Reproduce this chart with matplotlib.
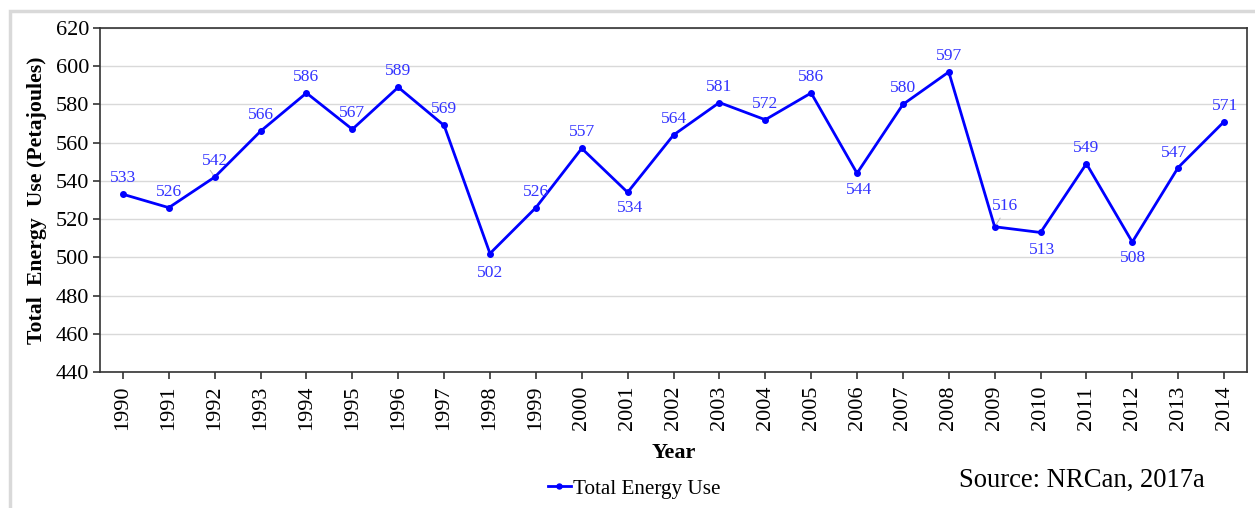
import matplotlib
matplotlib.use("Agg")
import matplotlib.pyplot as plt
from matplotlib.patches import Rectangle

years = [str(y) for y in range(1990, 2015)]
energy = [533, 526, 542, 566, 586, 567, 589, 569, 502, 526, 557, 534, 564,
          581, 572, 586, 544, 580, 597, 516, 513, 549, 508, 547, 571]
# label offsets in pixels (dx, dy)
label_offsets = [(0, 16), (0, 16), (0, 16), (0, 16), (0, 16), (0, 16), (0, 16),
                 (0, 16), (0, -19), (0, 16), (0, 16), (2, -16), (0, 16),
                 (0, 16), (0, 16), (0, 16), (2, -17), (0, 16), (0, 16),
                 (10, 21), (2, -18), (0, 16), (1, -16), (-4, 15), (1, 16)]
yticks = list(range(440, 621, 20))

plt.rcParams['font.family'] = ['Liberation Serif', 'DejaVu Serif']

fig = plt.figure(figsize=(12.55, 5.08), dpi=100)
W, H = 1255, 508
ax = fig.add_axes([100 / W, 1 - 372 / H, (1247 - 100) / W, (372 - 28) / H])

# outer light gray frame
fig.patches.append(Rectangle((10 / W, -0.05), 1.2, 1 - 11 / H + 0.05,
                             transform=fig.transFigure, fill=False,
                             edgecolor='#d9d9d9', linewidth=2.5, zorder=0))

x = list(range(len(years)))
ax.plot(x, energy, color='#0000FF', linewidth=2.0, marker='o', markersize=4,
        label='Total Energy Use', zorder=3)

for xi, v, (dx, dy) in zip(x, energy, label_offsets):
    ax.annotate(str(v), (xi, v), xytext=(dx, dy), textcoords='offset pixels',
                ha='center', va='center', fontsize=12.6, color='#3333FF', zorder=4)

# small leader lines for offset labels
ax.annotate('', (2, 542), xytext=(-6, 9), textcoords='offset pixels',
            arrowprops=dict(arrowstyle='-', color='#bbbbbb', lw=0.8))
ax.annotate('', (19, 516), xytext=(7, 11), textcoords='offset pixels',
            arrowprops=dict(arrowstyle='-', color='#bbbbbb', lw=0.8))

ax.set_xlim(-0.5, len(years) - 0.5)
ax.set_ylim(440, 620)
ax.set_yticks(yticks)
ax.set_yticklabels([str(t) for t in yticks], fontsize=16)
ax.set_xticks(x)
ax.set_xticklabels(years, rotation=90, fontsize=16)
ax.tick_params(axis='both', colors='#333333', labelcolor='black', length=5, width=1.2)
ax.tick_params(axis='x', direction='out', pad=5)
ax.tick_params(axis='y', pad=3)
ax.grid(axis='y', color='#d9d9d9', linewidth=1)
ax.set_axisbelow(True)
for s in ax.spines.values():
    s.set_color('#333333')
    s.set_linewidth(1.2)

ax.set_ylabel('Total  Energy  Use (Petajoules)', fontsize=15.7, fontweight='bold', labelpad=6)
ax.set_xlabel('Year', fontsize=16, fontweight='bold', labelpad=9)

fig.legend(loc='center', bbox_to_anchor=(634 / W, 1 - 489 / H), frameon=False,
           fontsize=15.2, handlelength=1.1, handletextpad=0.1, markerscale=0.9)

fig.text(1082 / W, 1 - 480 / H, 'Source: NRCan, 2017a', ha='center', va='center',
         fontsize=19.2)

fig.savefig('out.png', dpi=100)
